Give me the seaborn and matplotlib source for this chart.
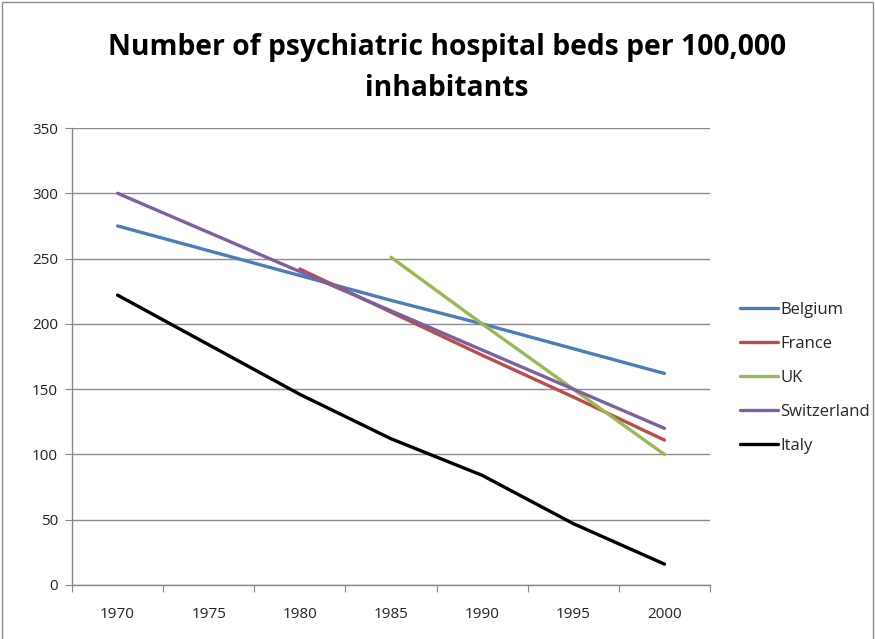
import matplotlib
matplotlib.use("Agg")
import matplotlib.pyplot as plt
import seaborn as sns
import pandas as pd
from matplotlib.patches import Rectangle

years = [1970, 1975, 1980, 1985, 1990, 1995, 2000]
belgium = [275, 256, 237, 218, 200, 181, 162]
france = [None, None, 242, 209, 176, 144, 111]
uk = [None, None, None, 251, 200, 150, 100]
switzerland = [300, 270, 240, 210, 180, 150, 120]
italy = [222, 184, 146, 112, 84, 47, 16]
countries = ["Belgium", "France", "UK", "Switzerland", "Italy"]
colors = ["#4A7EBB", "#BE4B48", "#98B954", "#7D60A0", "#000000"]
y_ticks = [0, 50, 100, 150, 200, 250, 300, 350]
title = "Number of psychiatric hospital beds per 100,000\ninhabitants"

series = dict(zip(countries, [belgium, france, uk, switzerland, italy]))
rows = []
for c in countries:
    for yr, v in zip(years, series[c]):
        if v is not None:
            rows.append({"Year": yr, "Beds": v, "Country": c})
df = pd.DataFrame(rows)

sns.set_style("white")
plt.rcParams["font.family"] = ["Open Sans", "DejaVu Sans"]

fig = plt.figure(figsize=(8.75, 6.39), dpi=100)
ax = fig.add_axes([72/875, 1-585/639, (710-72)/875, (585-128)/639])

sns.lineplot(data=df, x="Year", y="Beds", hue="Country", hue_order=countries,
             palette=colors, linewidth=2.4, ax=ax, legend=True)

ax.set_xlim(1967.5, 2002.5)
ax.set_ylim(0, 350)
ax.set_yticks(y_ticks)
ax.set_yticklabels([str(t) for t in y_ticks], fontsize=11, color="#222222")
ax.set_xticks([1967.5 + 5*i for i in range(8)])
ax.set_xticklabels([])
ax.set_xticks(years, minor=True)
ax.set_xticklabels([str(y) for y in years], minor=True, fontsize=11, color="#222222")
ax.tick_params(axis="x", which="major", length=5, color="#888888", direction="out", bottom=True)
ax.tick_params(axis="x", which="minor", length=0, pad=16)
ax.tick_params(axis="y", length=5, color="#888888", direction="out", left=True, pad=5)
ax.set_xlabel("")
ax.set_ylabel("")
ax.grid(axis="y", color="#8C8C8C", linewidth=1.0)
ax.set_axisbelow(True)
for s in ["top", "right"]:
    ax.spines[s].set_visible(False)
for s in ["left", "bottom"]:
    ax.spines[s].set_color("#888888")
    ax.spines[s].set_linewidth(1.0)

leg = ax.legend(loc="center left", bbox_to_anchor=(733/875, 1-377.5/639),
                bbox_transform=fig.transFigure, frameon=False, fontsize=12,
                handlelength=2.3, handletextpad=0.15, labelspacing=1.08,
                borderaxespad=0)
for line in leg.get_lines():
    line.set_linewidth(2.4)

fig.text(447/875, 1-68/639, title, ha="center", va="center", fontsize=20.3,
         fontweight="bold", linespacing=1.5, color="#000000")

fig.patches.append(Rectangle((2/875, -0.01), 1-4/875, 1-2/639+0.01, transform=fig.transFigure,
                             fill=False, edgecolor="#8C8C8C", linewidth=1.0))

fig.savefig("out.png", dpi=100, facecolor="white")
